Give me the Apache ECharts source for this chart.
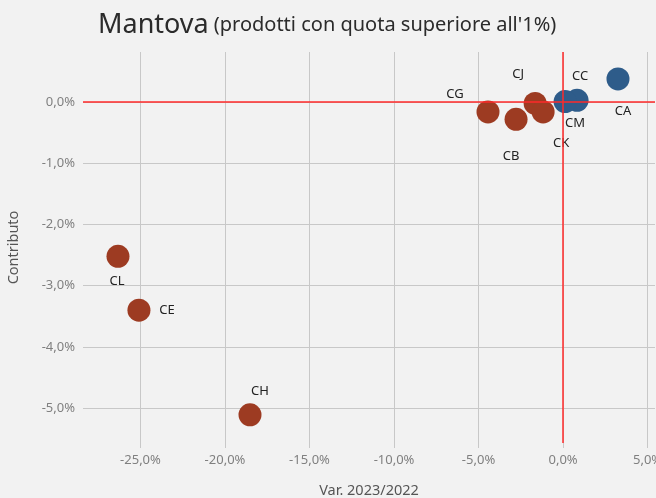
<!DOCTYPE html>
<html>
<head>
<meta charset="utf-8">
<script src="https://cdn.jsdelivr.net/npm/echarts@6/dist/echarts.min.js"></script>
<style>
  html, body { margin: 0; padding: 0; background: #f2f2f2; }
  #chart { width: 656px; height: 498px; }
</style>
</head>
<body>
<div id="chart"></div>
<script>
// prodotti (codici), variazione 2023/2022 (%) e contributo (%)
const codes = ["CA", "CC", "CM", "CJ", "CK", "CB", "CG", "CL", "CE", "CH"];
const variazione = [3.25, 0.83, 0.12, -1.65, -1.18, -2.78, -4.44, -26.33, -25.09, -18.52];
const contributo = [0.38, 0.03, 0.01, -0.02, -0.16, -0.28, -0.16, -2.52, -3.4, -5.11];

// spostamento etichette (px) rispetto al punto
const labelOffset = {
  CA: [5, 32], CC: [3, -24], CM: [10, 22], CJ: [-17, -29], CK: [18, 31],
  CB: [-5, 37], CG: [-33, -18], CL: [-1, 25], CE: [28, 0], CH: [10, -24],
};

const fmt = (v) => v.toFixed(1).replace(".", ",") + "%";
const font = "Noto Sans";
const rosso = "#ff2a2a";

const toPoint = (i) => ({
  value: [variazione[i], contributo[i]],
  name: codes[i],
  label: { offset: labelOffset[codes[i]] },
});
const idx = codes.map((c, i) => i);
const positivi = idx.filter((i) => variazione[i] >= 0).map(toPoint);
const negativi = idx.filter((i) => variazione[i] < 0).map(toPoint);

const myChart = echarts.init(document.getElementById("chart"));

const label = {
  show: true,
  position: "inside",
  formatter: "{b}",
  color: "#222",
  fontSize: 13,
  fontFamily: font,
};

const axisCommon = {
  type: "value",
  nameLocation: "middle",
  nameTextStyle: { color: "#555", fontSize: 14.5, fontFamily: font },
  axisLine: { show: false, onZero: false },
  axisLabel: {
    formatter: fmt,
    color: "#808080",
    fontSize: 13,
    fontFamily: font,
    showMinLabel: false,
    showMaxLabel: false,
  },
  splitLine: { lineStyle: { color: "#c8c8c8" }, showMinLine: false, showMaxLine: false },
};

const option = {
  backgroundColor: "#f2f2f2",
  animation: false,
  title: {
    text: "{a|Mantova} {b|(prodotti con quota superiore all'1%)}",
    left: 93,
    top: 7,
    textStyle: {
      fontWeight: "normal",
      rich: {
        a: { fontSize: 27, color: "#2b2b2b", fontFamily: font, fontWeight: "normal" },
        b: { fontSize: 20, color: "#2b2b2b", fontFamily: font, fontWeight: "normal" },
      },
    },
  },
  grid: { left: 83, right: 1, top: 52, bottom: 55, outerBoundsMode: "none" },
  xAxis: {
    ...axisCommon,
    min: -28.4,
    max: 5.44,
    name: "Var. 2023/2022",
    nameGap: 40,
    axisTick: { show: true, length: 5, lineStyle: { color: "#c8c8c8" } },
    axisLabel: { ...axisCommon.axisLabel, margin: 11 },
  },
  yAxis: {
    ...axisCommon,
    min: -5.57,
    max: 0.82,
    name: "Contributo",
    nameGap: 62,
    axisTick: { show: false },
    axisLabel: { ...axisCommon.axisLabel, margin: 8 },
  },
  series: [
    {
      name: "negativi",
      type: "scatter",
      symbolSize: 23,
      itemStyle: { color: "#9d3b22", opacity: 1 },
      label: label,
      data: negativi,
      markLine: {
        silent: true,
        symbol: "none",
        label: { show: false },
        lineStyle: { color: rosso, width: 1.5, type: "solid", opacity: 1 },
        data: [{ xAxis: 0 }, { yAxis: 0 }],
      },
    },
    {
      name: "positivi",
      type: "scatter",
      symbolSize: 23,
      itemStyle: { color: "#2e5c8a", opacity: 1 },
      label: label,
      data: positivi,
    },
  ],
};

option && myChart.setOption(option);
</script>
</body>
</html>
